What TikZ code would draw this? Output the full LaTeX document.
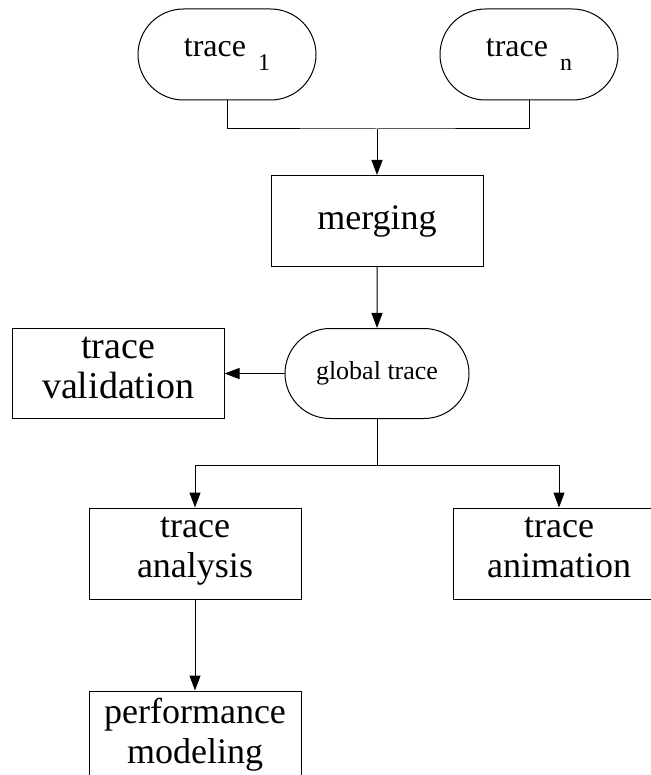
\documentclass[tikz,border=0pt]{standalone}
\usepackage{fontspec}
\setmainfont{Liberation Serif}
\usetikzlibrary{positioning,shapes.misc,arrows.meta}

\newcommand{\traceidx}[1]{\hspace{6pt}{\fontsize{12}{12}\selectfont\raisebox{-7pt}{#1}}}

\begin{document}
\begin{tikzpicture}[
  box/.style={draw, rectangle, minimum width=106pt, minimum height=45.5pt, inner sep=0pt,
    align=center, font=\fontsize{18}{20}\selectfont,
    execute at begin node=\strut, execute at end node=\strut},
  term/.style={draw, rounded rectangle, rounded rectangle arc length=180,
    minimum width=89pt, minimum height=45.5pt, inner sep=0pt, align=center},
  arr/.style={-{Triangle[length=7.5pt,width=5.5pt]}},
  line width=0.5pt
]
\clip (0,0) rectangle (325.5pt,-387.5pt);

% Define nodes
\node[term, font=\fontsize{16}{18}\selectfont] (trace1) at (113.5pt,-27.25pt) {trace\traceidx{1}};
\node[term, right=61.5pt of trace1, font=\fontsize{16}{18}\selectfont] (tracen) {trace\traceidx{n}};
\node[box] (merging) at (188.5pt,-110.5pt) {merging};
\node[term, below=30.5pt of merging, minimum width=92pt, minimum height=45pt,
  font=\fontsize{13}{15}\selectfont] (global) {global trace};
\node[box, left=30pt of global, minimum height=45pt, font=\fontsize{19}{20}\selectfont] (validation) {trace\\validation};
\node[box] (analysis) at (97.5pt,-276.75pt) {trace\\analysis};
\node[box, right=75.5pt of analysis] (animation) {trace\\animation};
\node[box, below=45.5pt of analysis] (modeling) {performance\\modeling};

\coordinate[above=23pt of merging.north] (join);
\coordinate[below=23pt of global.south] (split);

% Draw arrows
\draw (trace1.south) |- (join) -| (tracen.south);
\draw[arr] (join) -- (merging);
\draw[arr] (merging) -- (global);
\draw[arr] (global) -- (validation);
\draw (global.south) -- (split);
\draw[arr] (split) -| (analysis);
\draw[arr] (split) -| (animation);
\draw[arr] (analysis) -- (modeling);

\end{tikzpicture}
\end{document}
